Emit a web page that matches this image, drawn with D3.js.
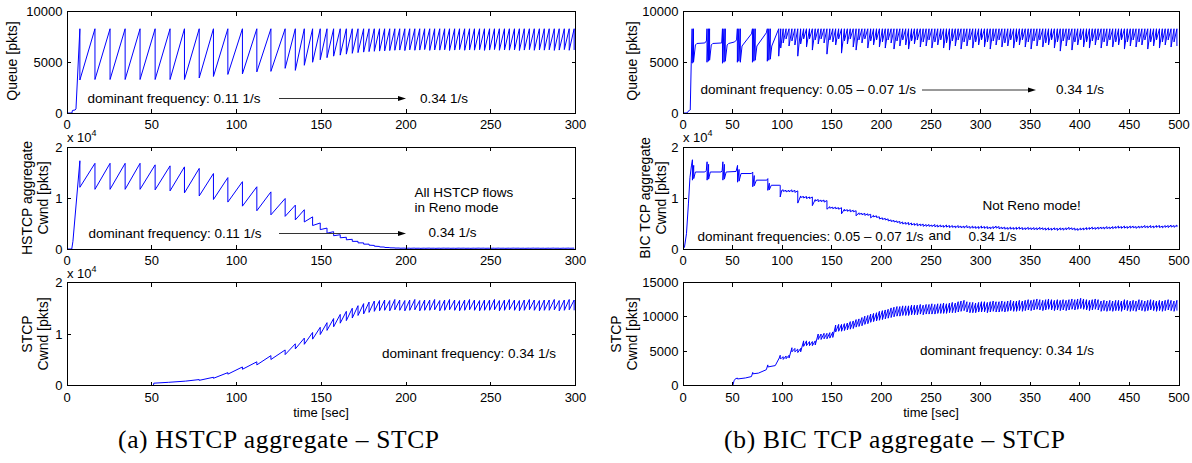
<!DOCTYPE html>
<html>
<head>
<meta charset="utf-8">
<script src="https://cdn.jsdelivr.net/npm/d3@7"></script>
<style>
  body { margin: 0; background: #fff; }
  svg text { font-family: "Liberation Sans", Arial, Helvetica, sans-serif; fill: #000; }
  .cap { font-family: "Liberation Serif", "Times New Roman", serif; }
</style>
</head>
<body>
<svg id="chart" width="1192" height="463"></svg>
<script>
// ---------- (a) HSTCP aggregate - STCP, 0..300 s ----------
// times of the synchronized loss events (queue hits the buffer)
const lossA = [7.6, 16.5, 25.4, 34.3, 43.1, 52.0, 60.8, 69.3, 78.0, 86.4,
  94.9, 103.5, 112.0, 120.3, 128.7, 134.7, 140.0, 144.9, 149.4, 153.4,
  157.3, 161.2, 164.8, 168.3, 171.7, 175.0, 178.2, 181.3, 184.4, 187.4,
  190.4, 193.4, 196.3, 199.3, 202.2, 205.2, 208.1, 211.0, 214.0, 216.9,
  219.9, 222.8, 225.7, 228.7, 231.6, 234.6, 237.5, 240.4, 243.4, 246.3,
  249.3, 252.2, 255.1, 258.1, 261.0, 264.0, 266.9, 269.8, 272.8, 275.7,
  278.7, 281.6, 284.5, 287.5, 290.4, 293.4, 296.3, 299.2];

const bufferA = 8300;
const hsQueueLead = [[0, 0], [2.9, 0], [3.2, 250], [4.8, 300], [5.3, 400]];
const hsQueueLo = [3250, 3300, 3300, 3300, 3300, 3300, 3300, 3300, 3450, 3600,
  3800, 3850, 4050, 4100, 4400, 4200, 4700, 5000, 5250, 5450,
  5600, 5700, 5800, 5880, 5950, 6000, 6050, 6080, 6100, 6120,
  6150, 6180, 6200, 6150, 6220, 6180, 6200, 6250, 6170, 6210,
  6190, 6230, 6160, 6200, 6240, 6180, 6210, 6190, 6230, 6170,
  6200, 6250, 6180, 6210, 6190, 6220, 6160, 6200, 6240, 6180,
  6210, 6190, 6230, 6170, 6200, 6250, 6180, 6210];

const hsCwndLead = [[0, 0], [2.8, 0], [3.5, 1500]];
const hsCwndHi = [17300, 16800, 16800, 16800, 16800, 16500, 16300, 16100, 15800, 14800,
  14000, 13200, 12200, 11200, 9900, 8600, 7700, 6300, 5100, 4100,
  3400, 2800, 2300, 1900, 1500, 1200, 950, 700, 500, 380,
  280, 220, 190, 180, 170, 180, 160, 170, 180, 160,
  170, 180, 170, 160, 180, 170, 160, 170, 180, 170,
  160, 170, 180, 160, 170, 180, 170, 160, 170, 180,
  170, 160, 170, 180, 160, 170, 180, 170];
const hsCwndLo = [12100, 11700, 11700, 11700, 11700, 11600, 11400, 11000, 10400, 9700,
  9200, 8400, 7500, 6700, 6400, 5700, 5300, 4600, 3800, 3100,
  2600, 2200, 1800, 1500, 1200, 950, 750, 550, 400, 300,
  230, 180, 150, 140, 130, 140, 120, 130, 140, 120,
  130, 140, 130, 120, 140, 130, 120, 130, 140, 130,
  120, 130, 140, 120, 130, 140, 130, 120, 130, 140,
  130, 120, 130, 140, 120, 130, 140, 130];

const stcpALead = [[0, 0], [51, 0], [51.2, 450], [60, 620], [70, 850]];
const stcpAHi = [1150, 1600, 2500, 3600, 4600, 5800, 6900, 8100, 9200, 10300,
  11300, 12200, 13000, 13800, 14400, 15000, 15500, 15900, 16200, 16400,
  16500, 16600, 16500, 16700, 16600, 16500, 16600, 16700, 16500, 16600,
  16600, 16700, 16500, 16600, 16700, 16600, 16500, 16600, 16700, 16600,
  16500, 16600, 16600, 16700, 16500, 16600, 16700, 16600, 16500, 16600,
  16700, 16600, 16500, 16600, 16600, 16700, 16500, 16600, 16700, 16600];
const stcpALo = [1000, 1400, 2200, 3150, 4000, 5050, 6000, 7100, 8000, 9000,
  9900, 10700, 11400, 12100, 12600, 13100, 13600, 13900, 14200, 14400,
  14500, 14600, 14500, 14700, 14600, 14500, 14600, 14700, 14500, 14600,
  14600, 14700, 14500, 14600, 14700, 14600, 14500, 14600, 14700, 14600,
  14500, 14600, 14600, 14700, 14500, 14600, 14700, 14600, 14500, 14600,
  14700, 14600, 14500, 14600, 14600, 14700, 14500, 14600, 14700, 14600];

// ---------- (b) BIC TCP aggregate - STCP, 0..500 s ----------
const lossB = [101.0, 103.9, 106.9, 109.8, 112.8, 115.7, 118.6, 121.6, 124.5, 127.5,
  130.4, 133.3, 136.3, 139.2, 142.2, 145.1, 148.0, 151.0, 153.9, 156.9,
  159.8, 162.7, 165.7, 168.6, 171.6, 174.5, 177.4, 180.4, 183.3, 186.3,
  189.2, 192.1, 195.1, 198.0, 201.0, 203.9, 206.8, 209.8, 212.7, 215.7,
  218.6, 221.5, 224.5, 227.4, 230.4, 233.3, 236.2, 239.2, 242.1, 245.1,
  248.0, 250.9, 253.9, 256.8, 259.8, 262.7, 265.6, 268.6, 271.5, 274.5,
  277.4, 280.3, 283.3, 286.2, 289.2, 292.1, 295.0, 298.0, 300.9, 303.9,
  306.8, 309.7, 312.7, 315.6, 318.6, 321.5, 324.4, 327.4, 330.3, 333.3,
  336.2, 339.1, 342.1, 345.0, 348.0, 350.9, 353.8, 356.8, 359.7, 362.7,
  365.6, 368.5, 371.5, 374.4, 377.4, 380.3, 383.2, 386.2, 389.1, 392.1,
  395.0, 397.9, 400.9, 403.8, 406.8, 409.7, 412.6, 415.6, 418.5, 421.5,
  424.4, 427.3, 430.3, 433.2, 436.2, 439.1, 442.0, 445.0, 447.9, 450.9,
  453.8, 456.7, 459.7, 462.6, 465.6, 468.5, 471.4, 474.4, 477.3, 480.3,
  483.2, 486.1, 489.1, 492.0, 495.0, 497.9];

const bufferB = 8300;
const bicQueueLead = [[0, 0], [4, 0], [5, 150], [6.5, 250], [7.3, 300], [8.3, 4900],
  [9.2, 8300], [9.2, 4900], [10.6, 8300], [10.6, 5000], [12.5, 6700], [14, 6850],
  [22, 6900], [23.6, 7100], [24.2, 8300], [24.2, 5000], [25.6, 8300], [25.6, 5100],
  [26.8, 8300], [26.8, 5200], [28.5, 6700], [30, 6850], [39, 6900], [39.8, 8300],
  [39.8, 4900], [41.3, 8300], [41.3, 5000], [42.6, 8300], [42.6, 5100], [44.5, 6700],
  [46, 6850], [52, 7000], [54, 7200], [54.8, 8300], [54.8, 5000], [56.3, 8300],
  [56.3, 5100], [57.8, 8300], [57.8, 5000], [59.5, 6600], [69, 7800], [70, 8300],
  [70, 5000], [71.4, 8300], [71.4, 5100], [72.8, 8300], [72.8, 5200], [74.5, 6600],
  [84, 7900], [85, 8300], [85, 5100], [86.5, 8300], [86.5, 5200], [88, 8300],
  [88, 5300], [89.5, 6600], [96.5, 8300], [96.5, 5600], [98.5, 8300], [98.5, 6400]];
const bicQueueLo = [6900, 7300, 6600, 7100, 6700, 5600, 6800, 7300, 6500, 7300,
  6200, 7200, 6800, 7300, 6900, 5800, 7200, 7000, 6700, 7300,
  5900, 7100, 6800, 7300, 6500, 6200, 7200, 6900, 7300, 6400,
  7100, 6700, 7200, 6500, 7000, 6400, 7200, 6900, 6300, 7100,
  6600, 7200, 6700, 6300, 7100, 6800, 7200, 6500, 7000, 6600,
  7200, 6400, 7000, 6700, 7200, 6400, 6900, 6200, 7100, 6600,
  7200, 6300, 7000, 6600, 7200, 6400, 7000, 6700, 7200, 6500,
  7000, 6300, 7100, 6700, 7200, 6500, 6900, 6600, 7200, 6400,
  7000, 6700, 7200, 6500, 7000, 6300, 7100, 6600, 7200, 6500,
  6900, 6700, 7200, 6400, 7000, 6100, 7100, 6600, 7200, 6200,
  7000, 6700, 7200, 6500, 7000, 6400, 7100, 6700, 7200, 6400,
  7000, 6600, 7200, 6500, 7000, 6700, 7200, 6300, 7000, 6600,
  7200, 6500, 7000, 6700, 7200, 6300, 7000, 6600, 7200, 6400,
  7000, 6700, 7200, 6500, 7000, 6600];

const bicCwndLead = [[0, 0], [1.5, 400], [3.5, 3000], [5.5, 9000], [7, 14000], [8.5, 16300],
  [9.5, 17500], [9.5, 13500], [10.8, 16400], [10.8, 13800], [12.5, 15100], [22, 15100],
  [23.5, 15400], [24.3, 17100], [24.3, 13500], [25.8, 16600], [25.8, 13700], [27.5, 15100],
  [38.5, 15100], [39.5, 15400], [40.2, 17100], [40.2, 13500], [41.7, 16600], [41.7, 13700],
  [43.5, 15100], [53.5, 15200], [55, 16400], [55, 13100], [56.5, 15600], [56.5, 13300],
  [58.5, 14800], [69, 14800], [70.3, 15100], [70.3, 12200], [71.8, 14400], [71.8, 12400],
  [74, 13500], [84.5, 13500], [85.5, 13800], [85.5, 11500], [87, 12900], [87, 11600],
  [89, 12500], [97, 12500], [98, 12500], [98, 10200], [99.5, 11500]];
const bicCwndHi = [11600, 11500, 11500, 11600, 11500, 11400, 10400, 10300, 10300, 10200,
  10200, 9700, 9700, 9600, 9600, 9500, 8300, 8200, 8200, 8100,
  8100, 7800, 7700, 7700, 7600, 7500, 7100, 7000, 7000, 6900,
  6800, 6600, 6500, 6300, 6100, 6000, 5900, 5700, 5600, 5500,
  5400, 5300, 5200, 5200, 5100, 5000, 5000, 4900, 4900, 4800,
  4800, 4700, 4800, 4700, 4700, 4600, 4700, 4600, 4600, 4500,
  4600, 4500, 4500, 4600, 4400, 4500, 4400, 4400, 4500, 4400,
  4400, 4300, 4400, 4500, 4400, 4300, 4300, 4200, 4300, 4200,
  4250, 4300, 4200, 4150, 4250, 4150, 4200, 4150, 4250, 4150,
  4100, 4150, 4050, 4150, 4050, 4150, 4100, 4150, 4250, 4150,
  4100, 4000, 4100, 4100, 4200, 4200, 4300, 4200, 4300, 4300,
  4300, 4400, 4300, 4400, 4400, 4500, 4400, 4500, 4400, 4500,
  4500, 4400, 4500, 4500, 4600, 4500, 4600, 4500, 4600, 4600,
  4500, 4600, 4600, 4700, 4600, 4700];
const bicCwndLo = [11300, 11200, 11200, 11200, 11100, 9000, 10100, 10000, 9900, 9900,
  8500, 9400, 9300, 9300, 9200, 7800, 8000, 7900, 7900, 7800,
  6900, 7500, 7400, 7300, 7300, 6500, 6800, 6700, 6600, 6600,
  6100, 6300, 6200, 5900, 5800, 5700, 5500, 5400, 5300, 5200,
  5000, 4900, 4850, 4750, 4700, 4650, 4550, 4550, 4450, 4450,
  4450, 4400, 4350, 4300, 4350, 4250, 4300, 4200, 4250, 4150,
  4200, 4150, 4100, 4200, 4050, 4100, 4050, 4000, 4100, 4050,
  4000, 3950, 4000, 4100, 3950, 3950, 3900, 3850, 3900, 3850,
  3850, 3900, 3800, 3800, 3850, 3800, 3800, 3750, 3850, 3800,
  3700, 3750, 3700, 3800, 3650, 3750, 3700, 3750, 3850, 3800,
  3700, 3650, 3750, 3750, 3800, 3850, 3900, 3850, 3900, 3950,
  3900, 4000, 3950, 4000, 4050, 4100, 4050, 4100, 4050, 4100,
  4150, 4050, 4100, 4150, 4200, 4150, 4200, 4150, 4250, 4200,
  4150, 4250, 4200, 4300, 4250, 4300];

const stcpBLead = [[0, 0], [50.2, 0], [51.5, 700], [53, 1000], [55, 1070], [55, 950],
  [63, 1100], [69, 1300], [70.3, 1900], [70.3, 1700], [76, 1800], [84, 2300],
  [85.5, 3000], [85.5, 2700], [93, 2900], [97, 4000], [98, 4400], [98, 3900], [99.5, 4000]];
const stcpBHi = [4200, 4300, 4400, 5500, 5400, 5300, 5400, 6500, 6500, 6400,
  6400, 6500, 7500, 7500, 7600, 7600, 7700, 7800, 8800, 8900,
  8900, 9000, 9100, 9300, 9400, 9600, 9700, 9900, 10100, 10200,
  10400, 10500, 10600, 10800, 10900, 11000, 11100, 11300, 11400, 11500,
  11500, 11600, 11600, 11600, 11700, 11700, 11700, 11800, 11700, 11800,
  11800, 11900, 11800, 11900, 11900, 12000, 11900, 12000, 12100, 12000,
  12200, 12300, 12400, 12200, 12100, 12100, 12000, 12100, 12200, 12200,
  12100, 12200, 12300, 12200, 12200, 12300, 12200, 12300, 12400, 12300,
  12300, 12400, 12300, 12400, 12500, 12400, 12500, 12600, 12500, 12400,
  12500, 12600, 12500, 12400, 12500, 12400, 12500, 12400, 12500, 12600,
  12500, 12600, 12700, 12600, 12500, 12400, 12500, 12600, 12500, 12300,
  12400, 12300, 12400, 12300, 12400, 12400, 12300, 12500, 12400, 12300,
  12400, 12300, 12500, 12400, 12300, 12400, 12500, 12400, 12300, 12400,
  12300, 12400, 12500, 12400, 12300, 12400];
const stcpBLo = [3800, 3900, 4000, 4900, 4900, 4800, 4900, 5700, 5800, 5800,
  5800, 5900, 6700, 6700, 6800, 6800, 6900, 7000, 7800, 7900,
  7900, 8000, 8100, 8200, 8300, 8500, 8600, 8700, 8900, 9000,
  9200, 9300, 9400, 9500, 9600, 9700, 9800, 9900, 10000, 10100,
  10100, 10200, 10200, 10200, 10300, 10300, 10300, 10400, 10300, 10400,
  10400, 10400, 10400, 10500, 10500, 10500, 10500, 10600, 10600, 10600,
  10700, 10800, 10900, 10700, 10600, 10600, 10600, 10700, 10700, 10700,
  10600, 10700, 10800, 10700, 10700, 10800, 10700, 10800, 10900, 10800,
  10800, 10900, 10800, 10900, 11000, 10900, 11000, 11100, 11000, 10900,
  11000, 11100, 11000, 10900, 11000, 10900, 11000, 10900, 11000, 11100,
  11000, 11100, 11200, 11100, 11000, 10900, 11000, 11100, 11000, 10800,
  10900, 10800, 10900, 10800, 10900, 10900, 10800, 11000, 10900, 10800,
  10900, 10800, 11000, 10900, 10800, 10900, 11000, 10900, 10800, 10900,
  10800, 10900, 11000, 10900, 10800, 10900];

const xTicksA = [0, 50, 100, 150, 200, 250, 300];
const xTicksB = [0, 50, 100, 150, 200, 250, 300, 350, 400, 450, 500];

// lead-in points, then at every loss event: value before (hi) and after (lo) the drop
function sawtooth(lead, times, hi, lo) {
  const start = lead[lead.length - 1][0];
  const pts = lead.slice();
  times.filter(t => t > start).forEach((t, i) => {
    pts.push([t, typeof hi === "number" ? hi : hi[i]]);
    pts.push([t, lo[i]]);
  });
  return pts;
}

const svg = d3.select("#chart");
const colA = [67, 575.5], colB = [683, 1179];
const rows = [[11.5, 113], [147, 249], [282.5, 385.5]];
const tickLen = 4;

const panels = [
  { col: colA, row: rows[0], tmax: 300, xt: xTicksA, ymax: 10000, yt: [0, 5000, 10000], exp: false,
    data: sawtooth(hsQueueLead, lossA, bufferA, hsQueueLo) },
  { col: colA, row: rows[1], tmax: 300, xt: xTicksA, ymax: 20000, yt: [0, 10000, 20000], exp: true,
    data: sawtooth(hsCwndLead, lossA, hsCwndHi, hsCwndLo) },
  { col: colA, row: rows[2], tmax: 300, xt: xTicksA, ymax: 20000, yt: [0, 10000, 20000], exp: true,
    data: sawtooth(stcpALead, lossA, stcpAHi, stcpALo) },
  { col: colB, row: rows[0], tmax: 500, xt: xTicksB, ymax: 10000, yt: [0, 5000, 10000], exp: false,
    data: sawtooth(bicQueueLead, lossB, bufferB, bicQueueLo) },
  { col: colB, row: rows[1], tmax: 500, xt: xTicksB, ymax: 20000, yt: [0, 10000, 20000], exp: true,
    data: sawtooth(bicCwndLead, lossB, bicCwndHi, bicCwndLo) },
  { col: colB, row: rows[2], tmax: 500, xt: xTicksB, ymax: 15000, yt: [0, 5000, 10000, 15000], exp: false,
    data: sawtooth(stcpBLead, lossB, stcpBHi, stcpBLo) }
];

const defs = svg.append("defs");

panels.forEach((p, i) => {
  const x = d3.scaleLinear().domain([0, p.tmax]).range(p.col);
  const y = d3.scaleLinear().domain([0, p.ymax]).range([p.row[1], p.row[0]]);
  const g = svg.append("g");

  defs.append("clipPath").attr("id", "clip" + i)
    .append("rect")
    .attr("x", p.col[0]).attr("y", p.row[0])
    .attr("width", p.col[1] - p.col[0]).attr("height", p.row[1] - p.row[0]);

  const line = d3.line().x(d => x(d[0])).y(d => y(d[1]));
  g.append("path")
    .datum(p.data)
    .attr("clip-path", "url(#clip" + i + ")")
    .attr("d", line)
    .attr("fill", "none")
    .attr("stroke", "#0000ff")
    .attr("stroke-width", 1);

  // box
  g.append("rect")
    .attr("x", p.col[0]).attr("y", p.row[0])
    .attr("width", p.col[1] - p.col[0]).attr("height", p.row[1] - p.row[0])
    .attr("fill", "none").attr("stroke", "#000").attr("stroke-width", 1)
    .attr("shape-rendering", "crispEdges");

  // ticks inside, on all four sides
  p.xt.forEach(t => {
    g.append("line").attr("x1", x(t)).attr("x2", x(t))
      .attr("y1", p.row[1]).attr("y2", p.row[1] - tickLen)
      .attr("stroke", "#000").attr("shape-rendering", "crispEdges");
    g.append("line").attr("x1", x(t)).attr("x2", x(t))
      .attr("y1", p.row[0]).attr("y2", p.row[0] + tickLen)
      .attr("stroke", "#000").attr("shape-rendering", "crispEdges");
    g.append("text").attr("x", x(t)).attr("y", p.row[1] + 16)
      .attr("text-anchor", "middle").attr("font-size", 13).text(t);
  });
  p.yt.forEach(v => {
    g.append("line").attr("x1", p.col[0]).attr("x2", p.col[0] + tickLen)
      .attr("y1", y(v)).attr("y2", y(v))
      .attr("stroke", "#000").attr("shape-rendering", "crispEdges");
    g.append("line").attr("x1", p.col[1]).attr("x2", p.col[1] - tickLen)
      .attr("y1", y(v)).attr("y2", y(v))
      .attr("stroke", "#000").attr("shape-rendering", "crispEdges");
    g.append("text").attr("x", p.col[0] - 4.5).attr("y", y(v) + 4.5)
      .attr("text-anchor", "end").attr("font-size", 13)
      .text(p.exp ? v / 10000 : v);
  });
  if (p.exp) {
    const e = g.append("text").attr("x", p.col[0]).attr("y", p.row[0] - 5).attr("font-size", 13);
    e.append("tspan").text("x 10");
    e.append("tspan").attr("dy", -6).attr("font-size", 9).text("4");
  }
});

// y labels (rotated)
function ylab(lines, xs, cy) {
  lines.forEach((s, k) => {
    svg.append("text")
      .attr("transform", "translate(" + xs[k] + "," + cy + ") rotate(-90)")
      .attr("text-anchor", "middle").attr("font-size", 14).text(s);
  });
}
ylab(["Queue [pkts]"], [17], 61);
ylab(["HSTCP aggregate", "Cwnd [pkts]"], [32, 48], 198);
ylab(["STCP", "Cwnd [pkts]"], [32, 48], 334);
ylab(["Queue [pkts]"], [636.5], 61);
ylab(["BIC TCP aggregate", "Cwnd [pkts]"], [650, 666], 198);
ylab(["STCP", "Cwnd [pkts]"], [620.5, 636.5], 334);

svg.append("text").attr("x", 321).attr("y", 417).attr("text-anchor", "middle")
  .attr("font-size", 13).text("time [sec]");
svg.append("text").attr("x", 931).attr("y", 417).attr("text-anchor", "middle")
  .attr("font-size", 13).text("time [sec]");

// annotations
function note(x, yb, s) {
  svg.append("text").attr("x", x).attr("y", yb).attr("font-size", 13.5).text(s);
}
function arrow(x1, x2, yy) {
  svg.append("line").attr("x1", x1).attr("x2", x2 - 6).attr("y1", yy).attr("y2", yy)
    .attr("stroke", "#333").attr("stroke-width", 1);
  svg.append("path")
    .attr("d", "M" + (x2 - 8) + "," + (yy - 2.5) + "L" + x2 + "," + yy + "L" + (x2 - 8) + "," + (yy + 2.5) + "Z")
    .attr("fill", "#000");
}
note(87.5, 103, "dominant frequency: 0.11 1/s");
arrow(279, 406, 98.5);
note(420, 103, "0.34 1/s");

note(88.5, 237.5, "dominant frequency: 0.11 1/s");
arrow(279, 406, 233.5);
note(428.5, 237, "0.34 1/s");
note(414.5, 196.5, "All HSTCP flows");
note(414.5, 211.5, "in Reno mode");

note(382, 358, "dominant frequency: 0.34 1/s");

note(700.5, 94, "dominant frequency: 0.05 \u2013 0.07 1/s");
arrow(922, 1036, 90);
note(1056, 94, "0.34 1/s");

note(697.5, 241, "dominant frequencies: 0.05 \u2013 0.07 1/s");
note(928.5, 240, "and");
note(968.5, 241, "0.34 1/s");
note(982.5, 210, "Not Reno mode!");

note(920, 355, "dominant frequency: 0.34 1/s");

// captions
svg.append("text").attr("class", "cap").attr("x", 118).attr("y", 448)
  .attr("font-size", 25.5).attr("textLength", 321).attr("lengthAdjust", "spacing")
  .text("(a) HSTCP aggregate \u2013 STCP");
svg.append("text").attr("class", "cap").attr("x", 724).attr("y", 448)
  .attr("font-size", 25.5).attr("textLength", 341).attr("lengthAdjust", "spacing")
  .text("(b) BIC TCP aggregate \u2013 STCP");
</script>
</body>
</html>
